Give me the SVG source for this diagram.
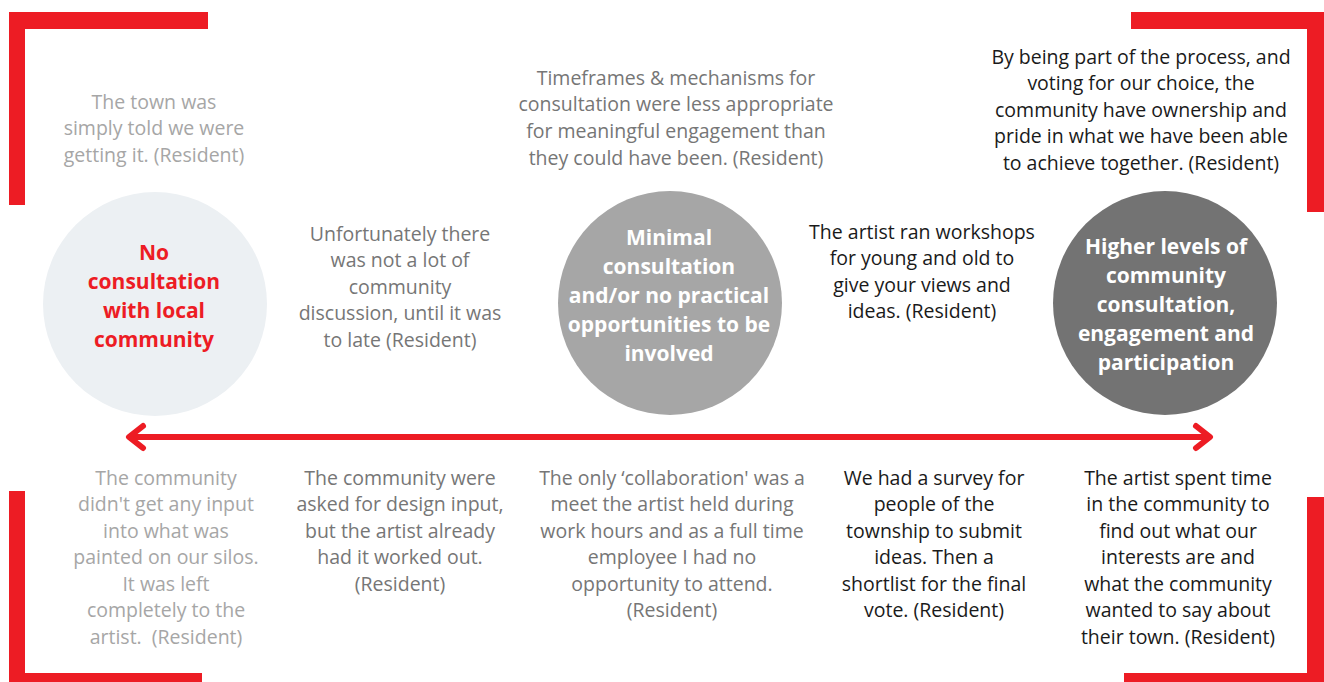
<svg xmlns="http://www.w3.org/2000/svg" width="1324" height="682" viewBox="0 0 1324 682">
<style>
.br{fill:#ED1C24}
.t{font-family:"Open Sans","Noto Sans",sans-serif;font-size:19.5px;text-anchor:middle}
.lt{fill:#A6A6A6}
.md{fill:#767676}
.dk{fill:#1A1A1A}
.h{font-family:"Open Sans","Noto Sans",sans-serif;font-size:21px;font-weight:bold;text-anchor:middle}
</style>
<rect width="1324" height="682" fill="#FFFFFF"/>
<g id="brackets">
<path class="br" d="M9 12H208V29H25V205H9Z"/>
<path class="br" d="M1131 12H1324V212H1307V29H1131Z"/>
<path class="br" d="M9 491H25V673H202V682H9Z"/>
<path class="br" d="M1307 497H1324V682H1124V673H1307Z"/>
</g>
<g id="connectors">
<line x1="131" y1="437" x2="1208" y2="437" stroke="#ED1C24" stroke-width="6"/>
<polyline points="143,426 129,437 143,448" fill="none" stroke="#ED1C24" stroke-width="6" stroke-linecap="round" stroke-linejoin="round"/>
<polyline points="1196,426 1210,437 1196,448" fill="none" stroke="#ED1C24" stroke-width="6" stroke-linecap="round" stroke-linejoin="round"/>
</g>
<g id="node-none">
<circle cx="155" cy="304" r="112" fill="#ECF0F3"/>
<text class="h" fill="#ED1C24"><tspan x="154" y="260">No</tspan><tspan x="154" y="289">consultation</tspan><tspan x="154" y="318">with local</tspan><tspan x="154" y="347">community</tspan></text>
</g>
<g id="node-minimal">
<circle cx="670" cy="303" r="112" fill="#A6A6A6"/>
<text class="h" fill="#FFFFFF"><tspan x="669" y="245">Minimal</tspan><tspan x="669" y="274">consultation</tspan><tspan x="669" y="303">and/or no practical</tspan><tspan x="669" y="332">opportunities to be</tspan><tspan x="669" y="361">involved</tspan></text>
</g>
<g id="node-higher">
<circle cx="1165" cy="303" r="112" fill="#737373"/>
<text class="h" fill="#FFFFFF"><tspan x="1166" y="254">Higher levels of</tspan><tspan x="1166" y="283">community</tspan><tspan x="1166" y="312">consultation,</tspan><tspan x="1166" y="341">engagement and</tspan><tspan x="1166" y="370">participation</tspan></text>
</g>
<g id="quote-1">
<text class="t lt"><tspan x="154" y="109">The town was</tspan><tspan x="154" y="135">simply told we were</tspan><tspan x="154" y="162">getting it. (Resident)</tspan></text>
</g>
<g id="quote-2">
<text class="t md"><tspan x="400" y="241">Unfortunately there</tspan><tspan x="400" y="267">was not a lot of</tspan><tspan x="400" y="294">community</tspan><tspan x="400" y="320">discussion, until it was</tspan><tspan x="400" y="347">to late (Resident)</tspan></text>
</g>
<g id="quote-3">
<text class="t md"><tspan x="676" y="85">Timeframes &amp; mechanisms for</tspan><tspan x="676" y="111">consultation were less appropriate</tspan><tspan x="676" y="138">for meaningful engagement than</tspan><tspan x="676" y="165">they could have been. (Resident)</tspan></text>
</g>
<g id="quote-4">
<text class="t dk"><tspan x="922" y="239">The artist ran workshops</tspan><tspan x="922" y="265">for young and old to</tspan><tspan x="922" y="292">give your views and</tspan><tspan x="922" y="318">ideas. (Resident)</tspan></text>
</g>
<g id="quote-5">
<text class="t dk"><tspan x="1141" y="64">By being part of the process, and</tspan><tspan x="1141" y="90">voting for our choice, the</tspan><tspan x="1141" y="117">community have ownership and</tspan><tspan x="1141" y="143">pride in what we have been able</tspan><tspan x="1141" y="170">to achieve together. (Resident)</tspan></text>
</g>
<g id="quote-6">
<text class="t lt" style="white-space:pre"><tspan x="166" y="485">The community</tspan><tspan x="166" y="511">didn't get any input</tspan><tspan x="166" y="538">into what was</tspan><tspan x="166" y="564">painted on our silos.</tspan><tspan x="166" y="591">It was left</tspan><tspan x="166" y="617">completely to the</tspan><tspan x="166" y="644">artist.  (Resident)</tspan></text>
</g>
<g id="quote-7">
<text class="t md"><tspan x="400" y="485">The community were</tspan><tspan x="400" y="511">asked for design input,</tspan><tspan x="400" y="538">but the artist already</tspan><tspan x="400" y="564">had it worked out.</tspan><tspan x="400" y="591">(Resident)</tspan></text>
</g>
<g id="quote-8">
<text class="t md"><tspan x="672" y="485">The only ‘collaboration' was a</tspan><tspan x="672" y="511">meet the artist held during</tspan><tspan x="672" y="538">work hours and as a full time</tspan><tspan x="672" y="564">employee I had no</tspan><tspan x="672" y="591">opportunity to attend.</tspan><tspan x="672" y="617">(Resident)</tspan></text>
</g>
<g id="quote-9">
<text class="t dk"><tspan x="934" y="485">We had a survey for</tspan><tspan x="934" y="511">people of the</tspan><tspan x="934" y="538">township to submit</tspan><tspan x="934" y="564">ideas. Then a</tspan><tspan x="934" y="591">shortlist for the final</tspan><tspan x="934" y="617">vote. (Resident)</tspan></text>
</g>
<g id="quote-10">
<text class="t dk"><tspan x="1178" y="485">The artist spent time</tspan><tspan x="1178" y="511">in the community to</tspan><tspan x="1178" y="538">find out what our</tspan><tspan x="1178" y="564">interests are and</tspan><tspan x="1178" y="591">what the community</tspan><tspan x="1178" y="617">wanted to say about</tspan><tspan x="1178" y="644">their town. (Resident)</tspan></text>
</g>
</svg>
